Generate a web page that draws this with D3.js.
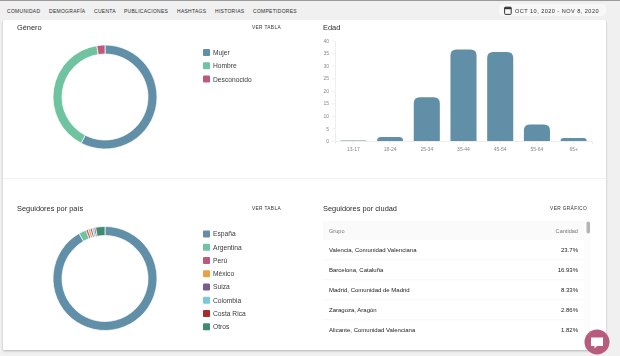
<!DOCTYPE html>
<html>
<head>
<meta charset="utf-8">
<script src="https://cdnjs.cloudflare.com/ajax/libs/d3/7.8.5/d3.min.js"></script>
<style>
  html, body { margin: 0; padding: 0; background: #f0f0f0; overflow: hidden; }
  svg { filter: blur(0.3px); }
  text { font-family: "Liberation Sans", Arial, sans-serif; }
</style>
</head>
<body>
<div id="graph"></div>
<script>
var navItems = ["COMUNIDAD", "DEMOGRAFÍA", "CUENTA", "PUBLICACIONES", "HASHTAGS", "HISTORIAS", "COMPETIDORES"];
var navX = [7, 49, 94, 124, 177, 215, 253];
var dateLabel = "OCT 10, 2020 - NOV 8, 2020";

var generoLabels = ["Mujer", "Hombre", "Desconocido"];
var generoValues = [57.6, 39.9, 2.5];

var paisLabels = ["España", "Argentina", "Perú", "México", "Suiza", "Colombia", "Costa Rica", "Otros"];
var paisValues = [91.7, 2.3, 0.7, 0.7, 0.6, 0.6, 0.5, 2.9];

var palette = ["#618fa8", "#6fc3a0", "#bd5a7c", "#e5a345", "#7d5a8c", "#7cc8d8", "#a92b2e", "#3f8a72"];

var edadLabels = ["13-17", "18-24", "25-34", "35-44", "45-54", "55-64", "65+"];
var edadValues = [0.4, 1.6, 17.4, 36.5, 35.5, 6.6, 1.2];

var ciudadLabels = ["Valencia, Comunidad Valenciana", "Barcelona, Cataluña", "Madrid, Comunidad de Madrid", "Zaragoza, Aragón", "Alicante, Comunidad Valenciana"];
var ciudadValues = ["23.7%", "16.93%", "8.33%", "2.86%", "1.82%"];

var svg = d3.select("#graph").append("svg")
    .attr("width", 620)
    .attr("height", 356)
    .style("display", "block");

var defs = svg.append("defs");
var blur = defs.append("filter").attr("id", "shadow")
    .attr("x", "-5%").attr("y", "-5%").attr("width", "110%").attr("height", "110%");
blur.append("feDropShadow").attr("dx", 0).attr("dy", 1).attr("stdDeviation", 1.2)
    .attr("flood-color", "#000").attr("flood-opacity", 0.25);

// page frame
svg.append("rect").attr("width", 620).attr("height", 1).attr("fill", "#9a9a9a");
svg.append("rect").attr("x", 3).attr("y", 20).attr("width", 603).attr("height", 330)
    .attr("rx", 2).attr("fill", "#fff").attr("filter", "url(#shadow)");
svg.append("rect").attr("x", 0).attr("y", 1).attr("width", 620).attr("height", 19).attr("fill", "#f0f0f0");
svg.append("rect").attr("x", 3).attr("y", 178).attr("width", 603).attr("height", 1).attr("fill", "#f3f3f3");

// nav
svg.selectAll(".nav").data(navItems).enter().append("text")
    .attr("class", "nav")
    .attr("x", function(d, i) { return navX[i]; })
    .attr("y", 12.6)
    .attr("font-size", 5)
    .attr("letter-spacing", 0.28)
    .attr("fill", "#2c2c2c")
    .text(function(d) { return d; });

// date picker
svg.append("rect").attr("x", 499).attr("y", 4).attr("width", 107).attr("height", 12).attr("rx", 4).attr("fill", "#f7f7f7");
var cal = svg.append("g").attr("transform", "translate(504,6)");
cal.append("rect").attr("x", 0.6).attr("y", 1.2).attr("width", 6.6).attr("height", 7.2).attr("rx", 0.8)
    .attr("fill", "none").attr("stroke", "#333").attr("stroke-width", 1);
cal.append("rect").attr("x", 0.6).attr("y", 1.2).attr("width", 6.6).attr("height", 2).attr("fill", "#333");
svg.append("text").attr("x", 515).attr("y", 13).attr("font-size", 5.6).attr("letter-spacing", 0.45)
    .attr("fill", "#2c2c2c").text(dateLabel);

function title(x, y, label) {
    svg.append("text").attr("x", x).attr("y", y).attr("font-size", 7.4)
        .attr("fill", "#2a2a2a").text(label);
}
function link(x, y, label) {
    svg.append("text").attr("x", x).attr("y", y).attr("font-size", 4.8)
        .attr("text-anchor", "end").attr("letter-spacing", 0.35)
        .attr("fill", "#333").text(label);
}

title(17, 29.5, "Género");
link(281, 29.2, "VER TABLA");
title(323, 29.5, "Edad");
title(17, 210.5, "Seguidores por país");
link(281, 210, "VER TABLA");
title(323, 210.5, "Seguidores por ciudad");
link(587, 210, "VER GRÁFICO");

// donuts
var pie = d3.pie().sort(null);
var arc = d3.arc().innerRadius(43).outerRadius(52);

function donut(cx, cy, labels, values, legendY, legendStep) {
    var g = svg.append("g").attr("transform", "translate(" + cx + "," + cy + ")");
    g.selectAll("path").data(pie(values)).enter().append("path")
        .attr("d", arc)
        .attr("fill", function(d, i) { return palette[i]; })
        .attr("stroke", "#fff")
        .attr("stroke-width", 0.7);

    var items = svg.selectAll(".none").data(labels).enter().append("g")
        .attr("transform", function(d, i) { return "translate(203," + (legendY + i * legendStep) + ")"; });
    items.append("rect").attr("y", -3.5).attr("width", 7).attr("height", 7).attr("rx", 1)
        .attr("fill", function(d, i) { return palette[i]; });
    items.append("text").attr("x", 10).attr("y", 2.4).attr("font-size", 6.7)
        .attr("fill", "#3a3a3a").text(function(d) { return d; });
}

donut(105, 97, generoLabels, generoValues, 52.5, 13.3);
donut(105, 278.5, paisLabels, paisValues, 234, 13.25);

// bars
var x = d3.scaleBand().domain(edadLabels).range([335, 592]).paddingInner(0.29).paddingOuter(0.145);
var y = d3.scaleLinear().domain([0, 40]).range([141, 40.7]);

var xAxis = svg.append("g").attr("transform", "translate(0,141)")
    .call(d3.axisBottom(x).tickSize(3).tickSizeOuter(3));
var yAxis = svg.append("g").attr("transform", "translate(335,0)")
    .call(d3.axisLeft(y).ticks(8).tickSize(3).tickSizeOuter(0));
[xAxis, yAxis].forEach(function(a) {
    a.selectAll("path, line").attr("stroke", "#eeeeee");
    a.selectAll("text").attr("font-size", 5).attr("fill", "#888").attr("font-family", "Liberation Sans, sans-serif");
});

function barPath(d, i) {
    var x0 = x(edadLabels[i]), w = x.bandwidth(), y0 = y(d), b = y(0);
    var r = Math.min(6, b - y0);
    return "M" + x0 + "," + b + "V" + (y0 + r) + "Q" + x0 + "," + y0 + " " + (x0 + r) + "," + y0 +
        "H" + (x0 + w - r) + "Q" + (x0 + w) + "," + y0 + " " + (x0 + w) + "," + (y0 + r) + "V" + b + "Z";
}
svg.selectAll(".bar").data(edadValues).enter().append("path")
    .attr("class", "bar")
    .attr("d", barPath)
    .attr("fill", "#618fa8")
    .attr("fill-opacity", function(d, i) { return i == 0 ? 0.5 : 1; });

// table
svg.append("rect").attr("x", 323).attr("y", 221).attr("width", 261).attr("height", 19).attr("fill", "#fafafa");
svg.append("text").attr("x", 329).attr("y", 233).attr("font-size", 5.6).attr("fill", "#777").text("Grupo");
svg.append("text").attr("x", 578).attr("y", 233).attr("font-size", 5.6).attr("text-anchor", "end").attr("fill", "#777").text("Cantidad");

var rowY = d3.scaleBand().domain(ciudadLabels).range([240, 340]);
svg.selectAll(".sep").data(ciudadLabels.slice(0, 4)).enter().append("rect")
    .attr("x", 323).attr("width", 261).attr("height", 0.7)
    .attr("y", function(d) { return rowY(d) + rowY.bandwidth() - 0.5; })
    .attr("fill", "#f4f4f4");
svg.selectAll(".city").data(ciudadLabels).enter().append("text")
    .attr("x", 329)
    .attr("y", function(d) { return rowY(d) + 12.2; })
    .attr("font-size", 6).attr("fill", "#222")
    .text(function(d) { return d; });
svg.selectAll(".pct").data(ciudadValues).enter().append("text")
    .attr("x", 578)
    .attr("y", function(d, i) { return rowY(ciudadLabels[i]) + 12.2; })
    .attr("font-size", 6).attr("text-anchor", "end").attr("fill", "#222")
    .text(function(d) { return d; });

// scrollbar
svg.append("rect").attr("x", 584).attr("y", 221).attr("width", 7).attr("height", 124).attr("fill", "#fcfcfc");
svg.append("rect").attr("x", 586.5).attr("y", 221.5).attr("width", 3.5).attr("height", 12).attr("rx", 1.7).attr("fill", "#b4b4b4");

// chat button
svg.append("circle").attr("cx", 597).attr("cy", 342).attr("r", 12.5).attr("fill", "#b85c7e");
svg.append("path").attr("d", "M591,337.5h12v8.5h-6l-2.5,2.5v-2.5h-3.5z").attr("fill", "#fff");
</script>
</body>
</html>
